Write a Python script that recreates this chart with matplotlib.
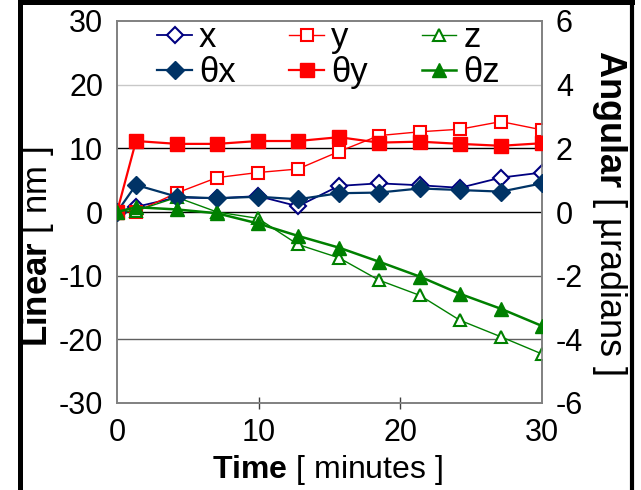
import matplotlib
matplotlib.use("Agg")
import matplotlib.pyplot as plt
from matplotlib.lines import Line2D

# ---- data ----
time_min = [0, 1.34, 4.23, 7.06, 9.95, 12.77, 15.67, 18.49, 21.38, 24.2, 27.1, 30]
lin_x = [0, 0.8, 2.3, 2.15, 2.5, 0.9, 4.1, 4.5, 4.2, 3.8, 5.4, 6.2]
lin_y = [0, 0.05, 3.0, 5.4, 6.2, 6.75, 9.5, 12.0, 12.6, 13.0, 14.2, 12.9]
lin_z = [0, 0.2, 2.3, 0.0, -1.0, -5.1, -7.2, -10.7, -13.1, -17.0, -19.6, -22.3]
ang_x = [0, 0.85, 0.48, 0.43, 0.48, 0.40, 0.59, 0.61, 0.74, 0.69, 0.64, 0.90]
ang_y = [0, 2.23, 2.14, 2.14, 2.23, 2.23, 2.35, 2.18, 2.21, 2.14, 2.08, 2.16]
ang_z = [0, 0.15, 0.08, -0.04, -0.36, -0.75, -1.12, -1.56, -2.03, -2.57, -3.04, -3.58]

x_ticks = [0, 10, 20, 30]
lin_ticks = [-30, -20, -10, 0, 10, 20, 30]
ang_ticks = [-6, -4, -2, 0, 2, 4, 6]

plt.rcParams['font.family'] = ['Liberation Sans', 'DejaVu Sans']
plt.rcParams['axes.unicode_minus'] = False
plt.rcParams['mathtext.fontset'] = 'custom'
plt.rcParams['mathtext.rm'] = 'Liberation Sans'
plt.rcParams['mathtext.bf'] = 'Liberation Sans:bold'

W, H = 641, 490
fig = plt.figure(figsize=(W / 100, H / 100), dpi=100)
ax = fig.add_axes([117 / W, 1 - 403 / H, (542 - 117) / W, (403 - 21) / H])
ax2 = ax.twinx()

navy = '#000080'
navy2 = '#003366'
red = '#ff0000'
green = '#008000'

# grid lines
grid_cols = {20: '#c8c8c8', 10: '#000000', 0: '#000000', -10: '#606060', -20: '#606060'}
for v, c in grid_cols.items():
    ax.axhline(v, color=c, lw=1.0, zorder=1)

h_x, = ax.plot(time_min, lin_x, color=navy, lw=1.3, marker='D', ms=8,
               mfc='white', mec=navy, mew=1.5, label='x', zorder=3)
h_y, = ax.plot(time_min, lin_y, color=red, lw=1.0, marker='s', ms=9,
               mfc='white', mec=red, mew=1.5, label='y', zorder=3)
h_z, = ax.plot(time_min, lin_z, color=green, lw=1.0, marker='^', ms=9,
               mfc='white', mec=green, mew=1.5, label='z', zorder=3)

h_tx, = ax2.plot(time_min, ang_x, color=navy2, lw=1.6, marker='D', ms=9,
                 mfc=navy2, mec=navy2, label='θx', zorder=3)
h_ty, = ax2.plot(time_min, ang_y, color=red, lw=1.6, marker='s', ms=10,
                 mfc=red, mec=red, label='θy', zorder=3)
h_tz, = ax2.plot(time_min, ang_z, color=green, lw=1.8, marker='^', ms=10,
                 mfc=green, mec=green, label='θz', zorder=3)

ax.set_xlim(0, 30)
ax.set_ylim(-30, 30)
ax2.set_ylim(-6, 6)
ax.set_xticks(x_ticks)
ax.set_yticks(lin_ticks)
ax2.set_yticks(ang_ticks)

for a in (ax, ax2):
    for s in a.spines.values():
        s.set_color('#808080')
        s.set_linewidth(1.2)

ax.tick_params(axis='y', length=0, labelsize=22, pad=10)
ax2.tick_params(axis='y', length=0, labelsize=22, pad=10)
ax.tick_params(axis='x', direction='inout', length=9, color='#404040',
               width=1.0, labelsize=22, pad=6)
ticks = ax.xaxis.get_major_ticks()
for t in (ticks[0], ticks[-1]):
    t.tick1line.set_visible(False)

fig.text(327 / W, 1 - 470 / H, r'$\mathbf{Time}$ [ minutes ]', fontsize=23,
         ha='center', va='center')
fig.text(38 / W, 1 - 247 / H, r'$\mathbf{Linear}$ [ nm ]', fontsize=25,
         rotation=90, ha='center', va='center')
fig.text(609 / W, 1 - 213 / H, r'$\mathbf{Angular}$ [ µradians ]', fontsize=26,
         rotation=270, ha='center', va='center')

handles = [h_x, h_tx, h_y, h_ty, h_z, h_tz]
leg = ax2.legend(handles=handles, labels=[h.get_label() for h in handles],
                 ncol=3, loc='upper left', bbox_to_anchor=(0.095, 1.0),
                 frameon=False, fontsize=25, handlelength=1.0,
                 handletextpad=0.2, columnspacing=1.55, labelspacing=0.05,
                 borderaxespad=0, borderpad=0)

# outer frame
fig.add_artist(Line2D([20 / W, 20 / W], [0, 1 - 2 / H], transform=fig.transFigure,
                      color='black', lw=3.6))
fig.add_artist(Line2D([20 / W, 632 / W], [1 - 2 / H, 1 - 2 / H], transform=fig.transFigure,
                      color='black', lw=3.6))
fig.add_artist(Line2D([632 / W, 632 / W], [0, 1 - 2 / H], transform=fig.transFigure,
                      color='black', lw=3.0))

fig.savefig('out.png', dpi=100)
